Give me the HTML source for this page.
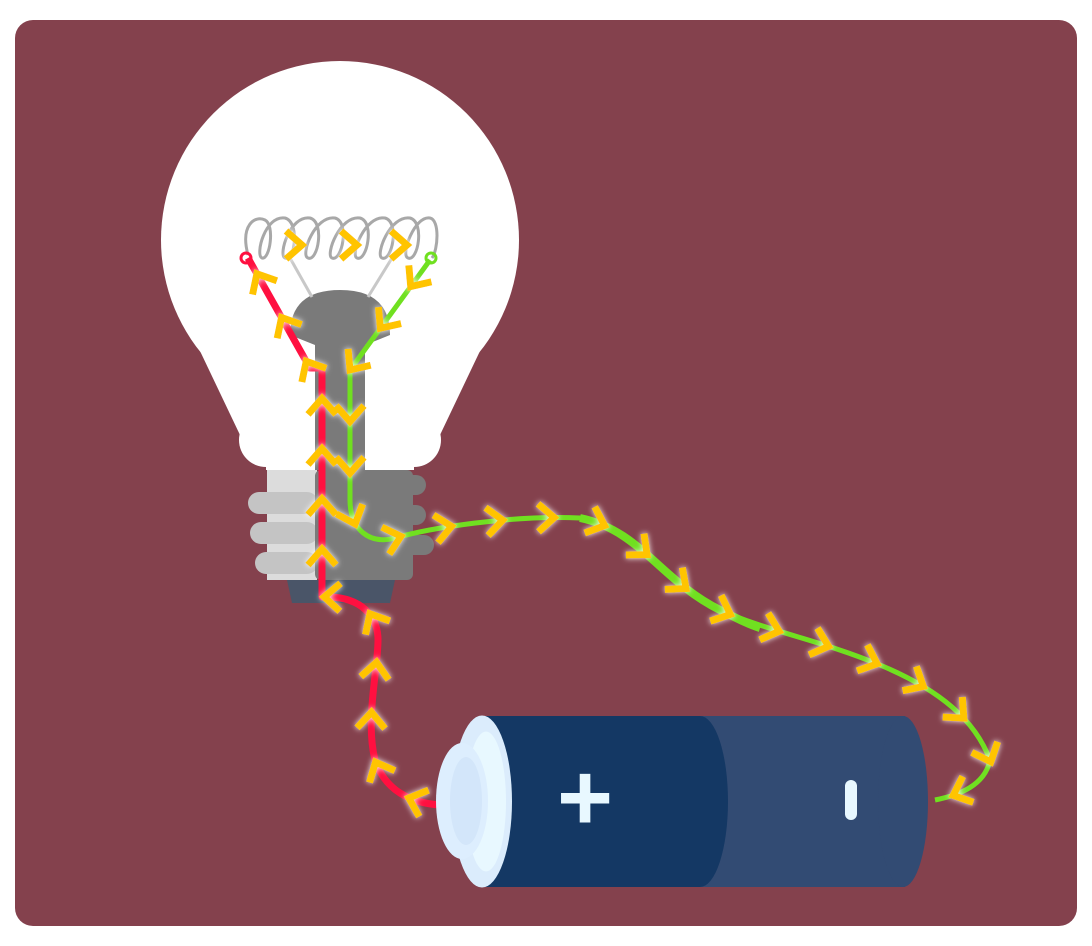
<!DOCTYPE html>
<html><head><meta charset="utf-8"><style>
html,body{margin:0;padding:0;background:#fff}
svg{display:block}
</style></head><body>
<svg width="1092" height="946" viewBox="0 0 1092 946" xmlns="http://www.w3.org/2000/svg">
<defs>
<filter id="glow" x="-50%" y="-50%" width="200%" height="200%">
<feGaussianBlur in="SourceAlpha" stdDeviation="3" result="b"/>
<feFlood flood-color="#fff" flood-opacity="0.9"/>
<feComposite in2="b" operator="in" result="g"/>
<feMerge><feMergeNode in="g"/><feMergeNode in="SourceGraphic"/></feMerge>
</filter>
</defs>
<rect x="15" y="20" width="1062" height="906" rx="18" fill="#84414d"/>

<g>
<circle cx="340" cy="240" r="179" fill="#fff"/>
<path d="M190,330 L490,330 L440,435 L240,435 Z" fill="#fff"/>
<circle cx="266" cy="440" r="27" fill="#fff"/>
<circle cx="414" cy="440" r="27" fill="#fff"/>
<rect x="266" y="420" width="148" height="50" fill="#fff"/>
</g>

<g>
<rect x="267" y="470" width="50" height="110" fill="#dcdcdc"/>
<rect x="248" y="492" width="70" height="22" rx="11" fill="#c4c4c4"/>
<rect x="250" y="522" width="68" height="22" rx="11" fill="#c4c4c4"/>
<rect x="255" y="552" width="63" height="22" rx="11" fill="#c4c4c4"/>
<rect x="315" y="470" width="98" height="110" rx="6" fill="#7a7a7a"/>
<rect x="400" y="475" width="26" height="20" rx="10" fill="#7a7a7a"/>
<rect x="400" y="505" width="26" height="20" rx="10" fill="#7a7a7a"/>
<rect x="400" y="535" width="34" height="20" rx="10" fill="#7a7a7a"/>
<path d="M287,580 L395,580 L390,603 L292,603 Z" fill="#4a5568"/>
</g>

<g>
<path d="M290,335 Q290,290 340,290 Q390,290 390,335 L365,345 L365,470 L315,470 L315,345 Z" fill="#7a7a7a"/>
<line x1="290" y1="258" x2="312" y2="297" stroke="#c8c8c8" stroke-width="3"/>
<line x1="392" y1="258" x2="368" y2="297" stroke="#c8c8c8" stroke-width="3"/>
</g>

<path fill="none" stroke="#a8a8a8" stroke-width="3"
d="M248,255 C240,225 255,215 265,220 C275,225 270,260 262,258 C255,255 265,215 285,218 C300,222 295,262 285,258 C278,255 290,215 310,218 C325,222 318,262 308,258 C300,255 315,215 335,218 C350,222 342,262 332,258 C325,255 340,215 360,218 C375,222 367,262 357,258 C350,255 365,215 385,218 C400,222 392,262 382,258 C375,255 390,215 410,218 C425,222 418,262 408,258 C400,255 415,215 430,218 C440,220 438,250 432,258"/>

<path id="redWire" fill="none" stroke="#ff1040" stroke-width="7" stroke-linejoin="round"
d="M440,805 C410,803 385,790 375,760 C365,720 378,670 378,640 C378,615 360,598 330,597 L322,597 L322,368 L310,368 L248,258"/>
<circle cx="246" cy="258" r="5" fill="none" stroke="#ff1040" stroke-width="3"/>
<path id="greenWire" fill="none" stroke="#70e020" stroke-width="5" stroke-linejoin="round"
d="M430,260 L350,370 L350,500 C350,530 370,545 395,538 C430,528 510,515 580,518 C640,530 660,580 720,610 C770,632 820,640 880,665 C940,690 975,720 990,760 C985,785 960,795 935,800"/>
<path d="M580,518 C640,530 660,580 720,610 C740,620 750,625 760,628" fill="none" stroke="#70e020" stroke-width="8"/>
<circle cx="431" cy="258" r="5" fill="none" stroke="#70e020" stroke-width="3"/>

<g>
<rect x="490" y="716" width="415" height="171" fill="#324b73"/>
<ellipse cx="903" cy="801.5" rx="25" ry="85.5" fill="#324b73"/>
<rect x="480" y="716" width="220" height="171" fill="#143864"/>
<ellipse cx="700" cy="801.5" rx="28" ry="85.5" fill="#143864"/>
<ellipse cx="482" cy="801.5" rx="30" ry="86" fill="#dbecfc"/>
<ellipse cx="486" cy="801.5" rx="20" ry="70" fill="#e8f8ff"/>
<ellipse cx="462" cy="801" rx="26" ry="58" fill="#ddeefe"/>
<ellipse cx="466" cy="801" rx="16" ry="44" fill="#d3e6fa"/>
<text x="585" y="830" font-family="Liberation Sans, sans-serif" font-size="96" font-weight="bold" fill="#e8f8ff" text-anchor="middle">+</text>
<rect x="845" y="780" width="12" height="40" rx="6" fill="#e8f8ff"/>
</g>

<g id="chevrons" filter="url(#glow)"></g>
</svg>
<script>
const redCount = 13;
const greenCount = 21;
const filamentArrows = [[295,245],[350,245],[400,245]];
const NS='http://www.w3.org/2000/svg';
const g=document.getElementById('chevrons');
function chev(x,y,ang){
  const p=document.createElementNS(NS,'polyline');
  p.setAttribute('points','-9,-14 7,0 -9,14');
  p.setAttribute('fill','none');
  p.setAttribute('stroke','#ffc400');
  p.setAttribute('stroke-width','7');
  p.setAttribute('transform','translate('+x+','+y+') rotate('+ang+')');
  
  
  g.appendChild(p);
}
function along(id,n){
  const path=document.getElementById(id);
  const L=path.getTotalLength();
  for(let i=0;i<n;i++){
    const s=L*(i+0.5)/n;
    const a=path.getPointAtLength(s), b=path.getPointAtLength(Math.min(L,s+2));
    const ang=Math.atan2(b.y-a.y,b.x-a.x)*180/Math.PI;
    chev(a.x,a.y,ang);
  }
}
along('redWire',redCount);
along('greenWire',greenCount);
filamentArrows.forEach(p=>chev(p[0],p[1],0));
</script>
</body></html>
